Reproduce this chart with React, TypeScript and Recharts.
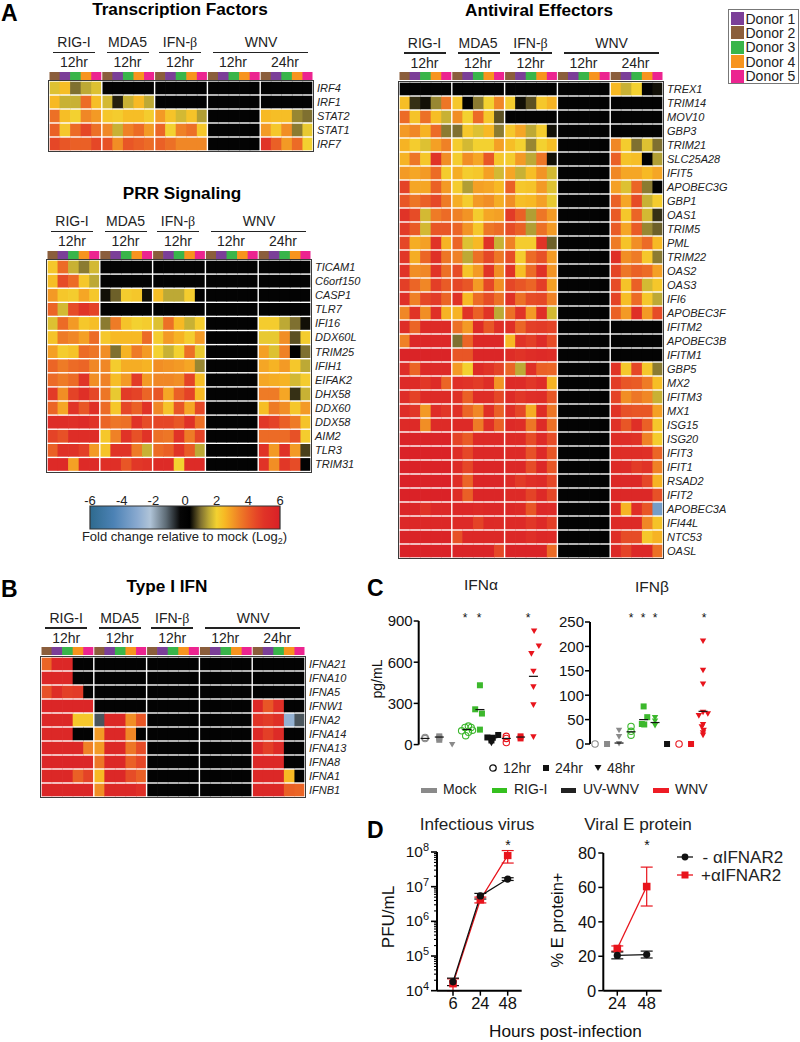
import React from "react";
import {
  BarChart, Bar, ScatterChart, Scatter, LineChart, Line, ErrorBar, XAxis, YAxis,
} from "recharts";

const FONT = '"Liberation Sans", Arial, sans-serif';
const INK = "#222";

const donors = ["Donor 1", "Donor 2", "Donor 3", "Donor 4", "Donor 5"];
const donorLegendColors = ["#7b3f98", "#8b5e3c", "#39b54a", "#f7941e", "#ec2490"];
const stripColors = ["#8b5e3c", "#7b3f98", "#39b54a", "#f7941e", "#ec2490"];

const fcStops = [-6, -4.5, -3, -2.2, -1.2, -0.3, 0.3, 1, 1.5, 2, 2.5, 3, 3.5, 4, 4.5, 5, 6];
const fcColors = ["#2e6a8e", "#4c82b5", "#8aaad0", "#b0c4d8", "#5d6b75", "#060606", "#000000", "#7f7030", "#bda935", "#f3d130", "#f7b924", "#f39a25", "#ee7b26", "#ea6026", "#e54727", "#e03327", "#d92027"];
const fcTicks = [-6, -4, -2, 0, 2, 4, 6];

const tfGenes = ["IRF4", "IRF1", "STAT2", "STAT1", "IRF7"];
const tfRows = [
  [1.8, 2.4, 1, 1.5, 1.8, 0, 0, 0, 0, 0, 0, 0, 0, 0, 0, 0, 0, 0, 0, 0, 0, 0, 0, 0, 0],
  [2.5, 1.6, 1.6, 3.8, 2.4, 1.7, 0.5, 1.6, 2.5, 1.5, 0, 0, 0, 0, 0, 0, 0, 0, 0, 0, 0, 0, 0, 0, 0],
  [3.7, 2.4, 2, 3.3, 3, 2.2, 2.1, 2.4, 2.4, 2.1, 3, 2.3, 1.7, 2.3, 1.4, 0, 0, 0, 0, 0, 2.5, 2.4, 2.4, 1.2, 1],
  [4, 2.2, 3.8, 4.5, 3.7, 3.3, 1.6, 3.4, 3.8, 3, 3.9, 2, 3.4, 3.7, 2.2, 0, 0, 0, 0, 0, 3, 2.2, 3.2, 1.1, 1.9],
  [4.5, 4.2, 4, 4, 4.5, 4.3, 3.2, 4.2, 4, 3.8, 4, 3.7, 3.3, 3.3, 3.3, 0, 0, 0, 0, 0, 5, 4, 3, 3.8, 2],
];

const prrGenes = ["TICAM1", "C6orf150", "CASP1", "TLR7", "IFI16", "DDX60L", "TRIM25", "IFIH1", "EIFAK2", "DHX58", "DDX60", "DDX58", "AIM2", "TLR3", "TRIM31"];
const prrRows = [
  [2.2, 3.8, 1.6, 1.1, 1.7, 0, 0, 0, 0, 0, 0, 0, 0, 0, 0, 0, 0, 0, 0, 0, 0, 0, 0, 0, 0],
  [2.4, 4.4, 3.8, 2.2, 1.5, 0, 0, 0, 0, 0, 0, 0, 0, 0, 0, 0, 0, 0, 0, 0, 0, 0, 0, 0, 0],
  [3, 2.2, 2.1, 2.8, 2.2, 0.4, 0.9, 2.1, 2.2, 0.4, 2.4, 1.5, 1.5, 2.1, 0.2, 0, 0, 0, 0, 0, 0, 0, 0, 0, 0],
  [3.9, 1.7, 4.4, 5, 4.6, 0, 0, 0, 0, 0, 0, 0, 0, 0, 0, 0, 0, 0, 0, 0, 0, 0, 0, 0, 0],
  [1.8, 3.8, 3, 2.2, 2.4, 1.1, 3.5, 2.3, 2, 2.1, 1.8, 3.7, 2.5, 1.6, 2.1, 0, 0, 0, 0, 0, 2.1, 2.1, 1.5, 1, 0.4],
  [2.3, 3.5, 3.3, 2.9, 3.8, 2.2, 2.5, 2.5, 2.5, 3.8, 2.1, 3, 2.6, 2.1, 3, 0, 0, 0, 0, 0, 1.9, 1.9, 3.2, 0.8, 2.1],
  [2.9, 2.1, 2.3, 3.8, 3.6, 3.2, 1, 2.6, 3.5, 3, 2, 1.6, 2, 3.7, 1.9, 0, 0, 0, 0, 0, 2.9, 1.8, 3.4, 0.3, 1],
  [3.9, 3.5, 3.8, 3.9, 3.3, 3.3, 2.1, 2.7, 2.7, 2.6, 3.2, 3.1, 3, 2.8, 1.2, 0, 0, 0, 0, 0, 2.8, 2.6, 3, 2.2, 1.5],
  [3.8, 3.5, 3.8, 5, 3.2, 3.4, 2.4, 3, 4.8, 3, 3.3, 3.3, 3.2, 4.6, 2.4, 0, 0, 0, 0, 0, 2.8, 2.7, 2.6, 1.7, 2.1],
  [4.8, 3.2, 4.6, 5.2, 4.5, 3.6, 1.9, 4.8, 4.6, 3.9, 4.2, 2.8, 4, 4.6, 2.5, 0, 0, 0, 0, 0, 3.5, 3.5, 2.8, 0.6, 1.6],
  [3.9, 2.8, 5, 4.2, 5.2, 3.8, 2.2, 4.5, 4, 5, 3.3, 2.3, 4.2, 2.8, 4.5, 0, 0, 0, 0, 0, 2.4, 3.5, 3.2, 2.2, 3],
  [5.3, 5.3, 5.2, 5.4, 5, 3.9, 3.6, 3.7, 5, 4.4, 4.5, 4.5, 4.2, 5.1, 3.7, 0, 0, 0, 0, 0, 4.9, 4.6, 4, 3.5, 2.3],
  [4.6, 4.3, 5.3, 5.3, 5.3, 2.2, 3.4, 5, 4.3, 5, 3.7, 3.6, 5, 3.5, 4.6, 0, 0, 0, 0, 0, 3.8, 3.8, 3.8, 4.3, 2.1],
  [4, 5.1, 5.1, 4.7, 3, 2.3, 5, 5, 3.5, 1.6, 3.8, 4, 5, 4.1, 1.5, 0, 0, 0, 0, 0, 5, 3, 5.1, 3, 0.7],
  [5.5, 5.5, 2.9, 5.5, 5.5, 5.2, 5.2, 4.2, 4.9, 5, 5.4, 5.4, 2, 5.4, 5.4, 0, 0, 0, 0, 0, 5, 3.2, 4.9, 4.4, 0],
];

const avGenes = ["TREX1", "TRIM14", "MOV10", "GBP3", "TRIM21", "SLC25A28", "IFIT5", "APOBEC3G", "GBP1", "OAS1", "TRIM5", "PML", "TRIM22", "OAS2", "OAS3", "IFI6", "APOBEC3F", "IFITM2", "APOBEC3B", "IFITM1", "GBP5", "MX2", "IFITM3", "MX1", "ISG15", "ISG20", "IFIT3", "IFIT1", "RSAD2", "IFIT2", "APOBEC3A", "IFI44L", "NTC53", "OASL"];
const avRows = [
  [0, 0, 0, 0, 0, 0, 0, 0, 0, 0, 0, 0, 0, 0, 0, 0, 0, 0, 0, 0, 2.5, 1.6, 2, 0.15, 0.4],
  [2.4, 0.6, 0.4, 1.2, 3.6, 2.2, 0.1, 1.1, 2, 3.3, 2.1, 0.4, 0.8, 2.2, 2.6, 0, 0, 0, 0, 0, 0, 0, 0, 0, 0],
  [3.8, 2.3, 3.7, 2.4, 1.6, 3.2, 2, 3.8, 2.2, 0.8, 0, 0, 0, 0, 0, 0, 0, 0, 0, 0, 0, 0, 0, 0, 0],
  [3, 3.3, 2.6, 3.8, 1.1, 1, 2.2, 1.8, 2.5, 1.1, 2.2, 2.8, 1.5, 2.1, 0.4, 0, 0, 0, 0, 0, 0, 0, 0, 0, 0],
  [2.6, 2.1, 1.8, 2.9, 3.4, 2.1, 1.7, 2, 2, 2.9, 2.4, 2, 1.2, 2, 2.4, 0, 0, 0, 0, 0, 3.3, 2.1, 1, 1.8, 1],
  [2.6, 3.6, 2.2, 5, 3.2, 2.1, 3.2, 2.8, 4.2, 2.2, 2.1, 3, 1.5, 3.6, 0.4, 0, 0, 0, 0, 0, 4, 2.3, 2.4, 0.1, 1.4],
  [3, 2.8, 3, 3.8, 2.1, 2.7, 2.1, 2.2, 2.9, 1.7, 2.8, 1.6, 2.4, 3.1, 1.7, 0, 0, 0, 0, 0, 3.3, 2.8, 2.8, 2.5, 2.8],
  [4.6, 2.8, 2.8, 4, 3, 2.1, 1.4, 2.9, 2.8, 2.5, 4, 2.2, 2.3, 3, 1.8, 0, 0, 0, 0, 0, 2.9, 1.8, 3.9, 1.1, 0.1],
  [4.2, 3.6, 4, 4.5, 3.5, 2.7, 2.1, 3, 3.2, 2.7, 3.2, 2.4, 2.5, 2.9, 1.9, 0, 0, 0, 0, 0, 4, 2.8, 4.4, 1.6, 2.1],
  [5, 4.4, 1.7, 3.5, 3.8, 3.4, 3.1, 2.1, 2.8, 2.9, 4.8, 4, 1.4, 3.6, 3, 0, 0, 0, 0, 0, 4.1, 2.2, 3.9, 1.7, 0.6],
  [4.8, 4.1, 1.7, 4.2, 4.2, 3.9, 3.1, 2.2, 3.6, 3.8, 4.4, 4, 1.4, 3.7, 3, 0, 0, 0, 0, 0, 4.1, 2.8, 4.1, 1.2, 0.9],
  [4.5, 2.7, 2.9, 5, 2.6, 3.9, 1.8, 2.5, 5, 1.6, 3.4, 2.1, 2.1, 5, 0.9, 0, 0, 0, 0, 0, 3.5, 2.3, 3.2, 3.8, 2.5],
  [4.9, 2.7, 3.9, 5.1, 3.6, 3.4, 1.5, 3.7, 4.5, 3.6, 4.4, 2.1, 3.8, 4.3, 3, 0, 0, 0, 0, 0, 5.2, 3.2, 3.5, 2.2, 1.1],
  [5, 3.2, 3.3, 5, 3.7, 4.4, 2.3, 3, 5, 3.2, 5, 2.4, 3.8, 5.1, 3.1, 0, 0, 0, 0, 0, 4.6, 3.6, 4, 3.8, 2.9],
  [4.7, 3.9, 3.3, 4.7, 4.1, 4.5, 4.2, 3, 4.5, 3.2, 4.5, 4.2, 3.9, 4.7, 2.9, 0, 0, 0, 0, 0, 4.4, 2.3, 4, 1.7, 2.2],
  [5.2, 3.4, 4.5, 4.8, 3.9, 5.1, 2.5, 3.8, 4.4, 3.7, 5.1, 3.7, 4.4, 4.5, 3.4, 0, 0, 0, 0, 0, 4.6, 2.4, 3.8, 2.2, 1.5],
  [3.3, 5, 3.2, 5.2, 2.6, 2.6, 5, 4, 5, 1.5, 3.7, 5, 3, 5.2, 1.7, 0, 0, 0, 0, 0, 4, 3, 5.2, 3, 4.4],
  [5.3, 3.9, 5.5, 5.5, 5.5, 3.7, 3, 5.4, 4.2, 5.2, 5.2, 3.9, 4.7, 4.8, 4.6, 0, 0, 0, 0, 0, 0, 0, 0, 0, 0],
  [3.4, 5.6, 5.6, 5.6, 5.6, 1, 3.9, 5.6, 5.6, 5.6, 2.5, 5, 4.7, 5.4, 4.4, 0, 0, 0, 0, 0, 0, 0, 0, 0, 0],
  [5.8, 5.8, 5.8, 5.8, 5.8, 4.2, 4.2, 5.7, 5.7, 5.7, 5.3, 5, 5.3, 5.5, 5.3, 0, 0, 0, 0, 0, 0, 0, 0, 0, 0],
  [5.3, 3.9, 5.5, 5.5, 5.5, 3, 2, 5.4, 5, 4.6, 3.9, 1.5, 5.2, 4, 3.9, 0, 0, 0, 0, 0, 5, 2.2, 4.5, 2.2, 1.1],
  [5.5, 5.4, 4.9, 5.4, 3.9, 5.2, 5, 4.8, 5.3, 3.1, 5.5, 5.4, 4.9, 5.3, 2.6, 0, 0, 0, 0, 0, 4.8, 4.2, 4.1, 3.5, 2.4],
  [5.3, 4.6, 5.4, 5.4, 5.4, 5.1, 4, 5.3, 5.3, 4.5, 5.4, 4.9, 5.2, 5.3, 4.2, 0, 0, 0, 0, 0, 4.6, 3.2, 3.6, 3.3, 1.6],
  [5.3, 4.9, 3, 5.3, 4.9, 5.2, 3.9, 3.3, 5.2, 4, 5.2, 4.5, 2.7, 5.3, 3.6, 0, 0, 0, 0, 0, 5, 4.3, 4.2, 4.2, 2.9],
  [5.5, 5.5, 3.2, 5.4, 5.4, 5.5, 5.5, 3.5, 5.2, 4, 5.5, 5.3, 3.6, 5.4, 3.7, 0, 0, 0, 0, 0, 5.1, 4.2, 5.2, 4, 2.2],
  [5.8, 5.8, 5.8, 5.8, 5.8, 4.6, 4.1, 5.5, 5.5, 5.5, 5.5, 5.5, 4.4, 5.5, 4.4, 0, 0, 0, 0, 0, 5.3, 5.3, 5.1, 3.4, 2.1],
  [5.9, 5.9, 5.9, 5.9, 5.9, 5.3, 4.5, 5.6, 5.6, 5.6, 5.5, 5.5, 4.3, 5.5, 4.2, 0, 0, 0, 0, 0, 5.3, 5.3, 5.3, 5.2, 3.9],
  [5.9, 5.9, 5.9, 5.9, 5.9, 5.4, 4.5, 5.7, 5.7, 5.7, 5.6, 5.6, 4.4, 5.6, 4.2, 0, 0, 0, 0, 0, 5.5, 5.5, 4.8, 5, 3.4],
  [5.9, 5.9, 5.9, 5.9, 5.9, 5.3, 3.9, 5.7, 5.7, 5.7, 5.4, 4.8, 5.2, 5.4, 4.5, 0, 0, 0, 0, 0, 5.6, 5.6, 5.6, 4.5, 2.6],
  [5.9, 5.9, 5.9, 5.9, 5.9, 5.3, 4, 5.7, 5.7, 5.7, 5.5, 5.5, 4.6, 5.5, 4.5, 0, 0, 0, 0, 0, 5.6, 5.6, 5.6, 5.6, 4.3],
  [5.7, 5.7, 5, 5.6, 5.6, 5.6, 5.6, 5.4, 5.6, 5.6, 5.6, 5.5, 4.2, 5.6, 5.4, 0, 0, 0, 0, 0, 5.4, 2.6, 5.2, 4.2, -3.5],
  [5.6, 5.6, 5.6, 5.6, 5.6, 5.5, 5.5, 4.6, 5.5, 5.4, 5.5, 5.5, 4.9, 5.5, 4.7, 0, 0, 0, 0, 0, 5.5, 5.5, 5.5, 3.3, 2.3],
  [5.8, 5.8, 5.8, 5.8, 5.8, 4.3, 5.6, 5.6, 5.6, 5.6, 5.6, 5.6, 5.2, 5.6, 5.5, 0, 0, 0, 0, 0, 5.3, 4.4, 4.4, 2.2, 2.6],
  [5.9, 5.9, 5.9, 5.9, 5.9, 5.8, 5.8, 5.8, 5.8, 4.5, 5.8, 5.8, 5.8, 5.8, 3.8, 0, 0, 0, 0, 0, 5.6, 4.6, 5.6, 5.6, 3.7],
];

const ifnGenes = ["IFNA21", "IFNA10", "IFNA5", "IFNW1", "IFNA2", "IFNA14", "IFNA13", "IFNA8", "IFNA1", "IFNB1"];
const ifnRows = [
  [3.9, 5.6, 5.6, 0, 0, 0, 0, 0, 0, 0, 0, 0, 0, 0, 0, 0, 0, 0, 0, 0, 0, 0, 0, 0, 0],
  [5.6, 5.6, 5.6, 0, 0, 0, 0, 0, 0, 0, 0, 0, 0, 0, 0, 0, 0, 0, 0, 0, 0, 0, 0, 0, 0],
  [4.3, 5.3, 4.7, 4.8, 0, 0, 0, 0, 0, 0, 0, 0, 0, 0, 0, 0, 0, 0, 0, 0, 0, 0, 0, 0, 0],
  [5.7, 5.7, 5.7, 5.7, 5.7, 0, 0, 0, 0, 0, 0, 0, 0, 0, 0, 0, 0, 0, 0, 0, 5.6, 4.2, 5.2, 0, 0],
  [5.6, 5.6, 5.6, 2.2, 2.2, -1, 5.6, 5.6, 3.2, 4.2, 0, 0, 0, 0, 0, 0, 0, 0, 0, 0, 5, 4.8, 5.2, -2.8, -1],
  [5.6, 5.6, 5.6, 0, 0, 3, 5.6, 5.6, 3.3, 0, 0, 0, 0, 0, 0, 0, 0, 0, 0, 0, 5.5, 4.7, 5.4, 0, 0],
  [5.6, 5.6, 5.6, 5.6, 3.4, 3, 5.6, 5.6, 3.6, 4.4, 0, 0, 0, 0, 0, 0, 0, 0, 0, 0, 5.5, 4.7, 5.4, 0, 0],
  [5.7, 5.7, 5.7, 5.7, 5.7, 3.6, 5.6, 5.6, 4, 4.5, 0, 0, 0, 0, 0, 0, 0, 0, 0, 0, 5.6, 5.6, 5.6, 0, 0],
  [5.6, 5.6, 5.6, 4, 4.6, 2.5, 5.6, 5.6, 4.4, 4, 0, 0, 0, 0, 0, 0, 0, 0, 0, 0, 5.6, 5.6, 5.6, 2.5, 0],
  [5.7, 5.7, 5.7, 5.7, 5.7, 3.2, 5.6, 5.6, 5.6, 5.2, 0, 0, 0, 0, 0, 0, 0, 0, 0, 0, 5.6, 5.6, 5.6, 4, 3.9],
];

// dot plots: [position along the x axis, pg/mL]
const alphaTicks = [0, 300, 600, 900];
const alphaMock12 = [[0, 44], [0, 52]];
const alphaMock24 = [[1.05, 60], [1.05, 35], [1.05, 50]];
const alphaMock48 = [[2, 0]];
const alphaRig12 = [[2.7, 100], [2.95, 125], [3.2, 135], [3.4, 125], [3.5, 105], [3, 65], [3.2, 90]];
const alphaRig24 = [[3.7, 257], [4.05, 432], [4.2, 226], [4.05, 109]];
const alphaUv24 = [[4.6, 52], [5, 50], [5.4, 70], [4.9, 30]];
const alphaUv48 = [[4.9, 10]];
const alphaWnv12 = [[6, 60], [6, 45], [6, 15]];
const alphaWnv24 = [[7.05, 60], [7.05, 45]];
const alphaWnv48 = [[8.05, 827], [8.4, 718], [7.85, 662], [8, 534], [8, 420], [8, 289], [8, 56]];
const alphaMedians = [[0, 45], [1.05, 55], [3.1, 110], [4.05, 255], [5, 50], [6, 45], [7.05, 55], [8, 497]];

const betaTicks = [0, 50, 100, 150, 200, 250];
const betaMock12 = [[0, 0]];
const betaMock24 = [[1, 0]];
const betaMock48 = [[2, 28], [2, 15], [2, 1]];
const betaRig12 = [[3, 36], [3, 26], [3, 18]];
const betaRig24 = [[3.9, 41], [4.05, 77], [4.35, 55], [4.1, 40]];
const betaRig48 = [[5, 54], [5, 47], [5, 38]];
const betaUv24 = [[6, 0]];
const betaWnv12 = [[7, 0]];
const betaWnv24 = [[8, 0]];
const betaWnv48 = [[9, 211], [9, 151], [9, 123], [8.65, 58], [9.4, 62], [9, 65], [9, 40], [8.9, 35], [9.05, 28], [9, 23], [9, 18]];
const betaMedians = [[2, 2], [3, 25], [4.05, 50], [5, 44], [9, 67]];

const hoursPfu = ["6", "24", "48"];
const pfuMinus = [1.8e4, 5.4e6, 1.66e7];
const pfuPlus = [1.6e4, 4.2e6, 8e7];
const pfuMinusErr = [[4e3, 5e3], [1e6, 1e6], [1.5e6, 1.5e6]];
const pfuPlusErr = [[6e3, 6e3], [8e5, 8e5], [3.2e7, 3e7]];
const pfuTicks = [1e4, 2e4, 3e4, 4e4, 5e4, 6e4, 7e4, 8e4, 9e4, 1e5, 2e5, 3e5, 4e5, 5e5, 6e5, 7e5, 8e5, 9e5, 1e6, 2e6, 3e6, 4e6, 5e6, 6e6, 7e6, 8e6, 9e6, 1e7, 2e7, 3e7, 4e7, 5e7, 6e7, 7e7, 8e7, 9e7, 1e8];

const hoursE = ["24", "48"];
const eMinus = [20.5, 21];
const ePlus = [24.5, 60.5];
const eMinusErr = [2, 2];
const ePlusErr = [1.5, 11.3];
const eTicks = [0, 20, 40, 60, 80];

const RED = "#e8141c";
const GREEN = "#3cb82c";
const GREY = "#8a8a8a";

function fcColor(v: number) {
  let i = 0;
  while (i < fcStops.length - 2 && v > fcStops[i + 1]) i++;
  const t = Math.max(0, Math.min(1, (v - fcStops[i]) / (fcStops[i + 1] - fcStops[i])));
  const a = fcColors[i], b = fcColors[i + 1];
  const ch = (s: string, k: number) => parseInt(s.slice(1 + k * 2, 3 + k * 2), 16);
  const mix = [0, 1, 2].map((k) => Math.round(ch(a, k) + (ch(b, k) - ch(a, k)) * t));
  return `rgb(${mix.join(",")})`;
}

function Txt({ x, y, size = 14, bold, italic, anchor = "center", rotate, color = INK, children }: any) {
  const tx = anchor === "center" ? "-50%" : "0";
  return (
    <div
      style={{
        position: "absolute", left: x, top: y, fontFamily: FONT, fontSize: size, color,
        fontWeight: bold ? 700 : 400, fontStyle: italic ? "italic" : "normal", whiteSpace: "nowrap",
        lineHeight: 1, transform: `translate(${tx},-50%)${rotate ? ` rotate(${rotate}deg)` : ""}`,
      }}
    >
      {children}
    </div>
  );
}

function Rule({ x1, x2, y }: any) {
  return <div style={{ position: "absolute", left: x1, top: y - 0.75, width: x2 - x1, height: 1.5, background: "#222" }} />;
}

const beta = <span style={{ fontFamily: '"Liberation Serif", serif' }}>β</span>;

const CELL_W = 264 / 25;
const GAP = 0.7;

function HeatPanel({ left, top, rowH, genes, rows, labelTop = -39 }: any) {
  const n = rows.length;
  const cells = rows.flatMap((vals: number[], r: number) =>
    vals.map((v, c) => ({ col: c + 0.5, row: r + 0.5, value: v }))
  );
  const strip = Array.from({ length: 25 }, (_, c) => ({ col: c + 0.5, row: 0.5, donor: c % 5 }));
  // white separators are the gaps left between rows and between the five groups
  const cellShape = ({ cx, cy, payload }: any) => {
    const c = Math.floor(payload.col);
    const l = c % 5 === 0 ? GAP : 0;
    const r = c % 5 === 4 ? GAP : 0;
    return (
      <rect
        x={cx - CELL_W / 2 + l} y={cy - rowH / 2 + GAP}
        width={CELL_W - l - r + (r ? 0 : 0.7)} height={rowH - 2 * GAP}
        fill={fcColor(payload.value)}
      />
    );
  };
  const stripShape = ({ cx, cy, payload }: any) => {
    const c = Math.floor(payload.col);
    const l = c % 5 === 0 ? 0.5 : 0;
    const r = c % 5 === 4 ? 0.5 : 0;
    return <rect x={cx - CELL_W / 2 + l} y={cy - 4} width={CELL_W - l - r + (r ? 0 : 0.7)} height={8} fill={stripColors[payload.donor]} />;
  };
  return (
    <>
      <Txt x={left + 25.5} y={top + labelTop}>RIG-I</Txt>
      <Txt x={left + 79} y={top + labelTop}>MDA5</Txt>
      <Txt x={left + 131.5} y={top + labelTop}>IFN-{beta}</Txt>
      <Txt x={left + 212.5} y={top + labelTop}>WNV</Txt>
      <Rule x1={left + 4.5} x2={left + 46.5} y={top + labelTop + 10.5} />
      <Rule x1={left + 58.5} x2={left + 100.5} y={top + labelTop + 10.5} />
      <Rule x1={left + 110.5} x2={left + 152.5} y={top + labelTop + 10.5} />
      <Rule x1={left + 164.5} x2={left + 259.5} y={top + labelTop + 10.5} />
      <Txt x={left + 25.5} y={top - 19}>12hr</Txt>
      <Txt x={left + 79} y={top - 19}>12hr</Txt>
      <Txt x={left + 131.5} y={top - 19}>12hr</Txt>
      <Txt x={left + 184.5} y={top - 19}>12hr</Txt>
      <Txt x={left + 236.5} y={top - 19}>24hr</Txt>

      <div style={{ position: "absolute", left, top: top - 9.5 }}>
        <ScatterChart width={264} height={8} margin={{ top: 0, right: 0, bottom: 0, left: 0 }}>
          <XAxis type="number" dataKey="col" domain={[0, 25]} hide />
          <YAxis type="number" dataKey="row" domain={[0, 1]} hide />
          <Scatter data={strip} shape={stripShape} isAnimationActive={false} />
        </ScatterChart>
      </div>

      <div style={{ position: "absolute", left: left - 2, top: top - 2 }}>
        <ScatterChart width={266 + 84} height={n * rowH + 4} margin={{ top: 2, right: 0, bottom: 2, left: 2 }}>
          <XAxis type="number" dataKey="col" domain={[0, 25]} hide />
          <YAxis
            type="number" dataKey="row" domain={[0, n]} reversed orientation="right" width={84}
            ticks={genes.map((_: string, i: number) => i + 0.5)} interval={0}
            tickFormatter={(v: number) => genes[Math.floor(v)]}
            axisLine={false} tickLine={false} tickSize={0} tickMargin={4}
            tick={{ fontSize: 11, fontStyle: "italic", fill: INK, fontFamily: FONT }}
          />
          <Scatter data={cells} shape={cellShape} isAnimationActive={false} />
        </ScatterChart>
      </div>
      <div style={{ position: "absolute", left: left - 0.75, top: top - 0.75, width: 264, height: n * rowH, border: "1.5px solid #3a3a3a", boxSizing: "content-box", pointerEvents: "none" }} />
    </>
  );
}

function ColorBar() {
  const data = [{ name: "fold", range: [-6, 6] }];
  return (
    <div style={{ position: "absolute", left: 79.5, top: 490 }}>
      <BarChart layout="vertical" width={210} height={40} data={data} barCategoryGap={0} margin={{ top: 0, right: 10, bottom: 1, left: 10 }}>
        <defs>
          <linearGradient id="fcGrad" x1="0" y1="0" x2="1" y2="0">
            {fcStops.map((s, i) => (
              <stop key={s} offset={(s + 6) / 12} stopColor={fcColors[i]} />
            ))}
          </linearGradient>
        </defs>
        <XAxis
          type="number" orientation="top" height={16} domain={[-6, 6]} ticks={fcTicks} interval={0}
          axisLine={false} tickLine={false} tickSize={0} tickMargin={1}
          tick={{ fontSize: 13, fill: INK, fontFamily: FONT }}
        />
        <YAxis type="category" dataKey="name" hide />
        <Bar dataKey="range" fill="url(#fcGrad)" stroke="#333" strokeWidth={1.2} isAnimationActive={false} />
      </BarChart>
    </div>
  );
}

const openCircle = (color: string) => ({ cx, cy }: any) => (
  <circle cx={cx} cy={cy} r={3.2} fill="none" stroke={color} strokeWidth={1.1} />
);
const square = (color: string) => ({ cx, cy }: any) => (
  <rect x={cx - 3} y={cy - 3} width={6} height={6} fill={color} />
);
const triangle = (color: string) => ({ cx, cy }: any) => (
  <path d={`M${cx - 3.2} ${cy - 2.6}L${cx + 3.2} ${cy - 2.6}L${cx} ${cy + 3}Z`} fill={color} />
);
const dash = ({ cx, cy }: any) => <rect x={cx - 4.5} y={cy - 0.6} width={9} height={1.2} fill="#111" />;

const toPts = (pairs: number[][]) => pairs.map(([pos, value]) => ({ pos, value }));

function DotPlot({ left, top, yWidth, plotW, plotH, domainX, domainY, ticks, series, medians }: any) {
  return (
    <div style={{ position: "absolute", left, top }}>
      <ScatterChart width={yWidth + plotW + 4} height={plotH + 16} margin={{ top: 8, right: 4, bottom: 8, left: 0 }}>
        <XAxis type="number" dataKey="pos" domain={domainX} height={0} tick={false} tickLine={false} axisLine={{ stroke: "#000", strokeWidth: 2 }} />
        <YAxis
          type="number" dataKey="value" domain={domainY} ticks={ticks} interval={0} width={yWidth}
          axisLine={{ stroke: "#000", strokeWidth: 2 }} tickLine={{ stroke: "#000", strokeWidth: 1.5 }} tickSize={5} tickMargin={1}
          tick={{ fontSize: 15, fill: "#111", fontFamily: FONT }}
        />
        {series.map((s: any, i: number) => (
          <Scatter key={i} data={toPts(s.pts)} shape={s.shape} isAnimationActive={false} />
        ))}
        <Scatter data={toPts(medians)} shape={dash} isAnimationActive={false} />
      </ScatterChart>
    </div>
  );
}

function PfuTick({ x, y, payload }: any) {
  const exp = Math.log10(payload.value);
  const major = Math.abs(exp - Math.round(exp)) < 1e-6;
  return (
    <g>
      <line x1={x} x2={x - (major ? 6 : 3)} y1={y} y2={y} stroke="#000" strokeWidth={major ? 1.6 : 1.1} />
      {major && (
        <text x={x - 8} y={y + 5} textAnchor="end" fontFamily={FONT} fontSize={15.5} fill="#111">
          10<tspan dy={-6} fontSize={11}>{Math.round(exp)}</tspan>
        </text>
      )}
    </g>
  );
}

const dotBlack = ({ cx, cy }: any) => <circle key={cx} cx={cx} cy={cy} r={3.6} fill="#111" />;
const boxRed = ({ cx, cy }: any) => <rect key={cx} x={cx - 3.8} y={cy - 3.8} width={7.6} height={7.6} fill={RED} />;

function LinePanel({ left, top, yWidth, plotW, plotH, data, padding, children }: any) {
  return (
    <div style={{ position: "absolute", left, top }}>
      <LineChart width={yWidth + plotW + 2} height={plotH + 12 + 28} data={data} margin={{ top: 10, right: 2, bottom: 2, left: 0 }}>
        <XAxis
          dataKey="hour" height={26} padding={padding} interval={0}
          axisLine={{ stroke: "#000", strokeWidth: 2 }} tickLine={{ stroke: "#000", strokeWidth: 1.5 }} tickSize={5} tickMargin={2}
          tick={{ fontSize: 16.5, fill: "#111", fontFamily: FONT }}
        />
        {children}
        <Line dataKey="plus" stroke={RED} strokeWidth={1.3} dot={boxRed} isAnimationActive={false}>
          <ErrorBar dataKey="plusErr" stroke={RED} width={6} strokeWidth={1.2} />
        </Line>
        <Line dataKey="minus" stroke="#111" strokeWidth={1.3} dot={dotBlack} isAnimationActive={false}>
          <ErrorBar dataKey="minusErr" stroke="#111" width={6} strokeWidth={1.2} />
        </Line>
      </LineChart>
    </div>
  );
}

export default function App() {
  const pfuData = hoursPfu.map((hour, i) => ({ hour, minus: pfuMinus[i], plus: pfuPlus[i], minusErr: pfuMinusErr[i], plusErr: pfuPlusErr[i] }));
  const eData = hoursE.map((hour, i) => ({ hour, minus: eMinus[i], plus: ePlus[i], minusErr: eMinusErr[i], plusErr: ePlusErr[i] }));

  const alphaSeries = [
    { pts: alphaMock12, shape: openCircle(GREY) },
    { pts: alphaMock24, shape: square(GREY) },
    { pts: alphaMock48, shape: triangle(GREY) },
    { pts: alphaRig12, shape: openCircle(GREEN) },
    { pts: alphaRig24, shape: square(GREEN) },
    { pts: alphaUv24, shape: square("#111") },
    { pts: alphaUv48, shape: triangle("#111") },
    { pts: alphaWnv12, shape: openCircle(RED) },
    { pts: alphaWnv24, shape: square(RED) },
    { pts: alphaWnv48, shape: triangle(RED) },
  ];
  const betaSeries = [
    { pts: betaMock12, shape: openCircle(GREY) },
    { pts: betaMock24, shape: square(GREY) },
    { pts: betaMock48, shape: triangle(GREY) },
    { pts: betaRig12, shape: openCircle(GREEN) },
    { pts: betaRig24, shape: square(GREEN) },
    { pts: betaRig48, shape: triangle(GREEN) },
    { pts: betaUv24, shape: square("#111") },
    { pts: betaWnv12, shape: openCircle(RED) },
    { pts: betaWnv24, shape: square(RED) },
    { pts: betaWnv48, shape: triangle(RED) },
  ];

  const swatches = [
    { x: 421, w: 16, c: GREY, label: "Mock", lx: 443 },
    { x: 492, w: 15, c: "#35c01f", label: "RIG-I", lx: 514 },
    { x: 561, w: 15, c: "#222", label: "UV-WNV", lx: 583 },
    { x: 653, w: 16, c: "#ee1c25", label: "WNV", lx: 675 },
  ];

  return (
    <div style={{ position: "absolute", left: 0, top: 0, width: 800, height: 1042, background: "#fff", overflow: "hidden" }}>
      <Txt x={1} y={13} size={23} bold anchor="start" color="#000">A</Txt>
      <Txt x={1} y={589} size={23} bold anchor="start" color="#000">B</Txt>
      <Txt x={367} y={588} size={23} bold anchor="start" color="#000">C</Txt>
      <Txt x={367} y={830} size={23} bold anchor="start" color="#000">D</Txt>

      <Txt x={180} y={9.5} size={17.2} bold color="#000">Transcription Factors</Txt>
      <Txt x={182} y={194} size={17.2} bold color="#000">PRR Signaling</Txt>
      <Txt x={539} y={11} size={17.2} bold color="#000">Antiviral Effectors</Txt>
      <Txt x={167} y={587} size={17.2} bold color="#000">Type I IFN</Txt>

      <HeatPanel left={48.5} top={81} rowH={14} genes={tfGenes} rows={tfRows} />
      <HeatPanel left={46.5} top={260} rowH={14.1} genes={prrGenes} rows={prrRows} />
      <HeatPanel left={399} top={81.7} rowH={14} genes={avGenes} rows={avRows} />
      <HeatPanel left={40.7} top={656.7} rowH={14} genes={ifnGenes} rows={ifnRows} />

      <div style={{ position: "absolute", left: 728, top: 9, width: 69, height: 73, border: "1.5px solid #777", boxSizing: "content-box", background: "#fff" }}>
        {donors.map((d, i) => (
          <div key={d} style={{ position: "absolute", left: 1.5, top: 1.5 + i * 14.4, display: "flex", alignItems: "center", height: 14, fontFamily: FONT, fontSize: 14, color: INK, whiteSpace: "nowrap" }}>
            <span style={{ width: 13, height: 13, background: donorLegendColors[i], marginRight: 2 }} />
            {d}
          </div>
        ))}
      </div>

      <ColorBar />
      <Txt x={184.5} y={538} size={13}>
        Fold change relative to mock (Log<span style={{ fontSize: 9, verticalAlign: -3 }}>2</span>)
      </Txt>

      <Txt x={481} y={585} size={15.5}>IFNα</Txt>
      <Txt x={652} y={587} size={15.5}>IFNβ</Txt>
      <Txt x={377} y={679} size={14} rotate={-90} color="#111">pg/mL</Txt>
      {[465, 479, 528].map((x) => <Txt key={x} x={x} y={618} size={12} color="#111">*</Txt>)}
      {[631, 643, 655, 704].map((x) => <Txt key={x} x={x} y={618} size={12} color="#111">*</Txt>)}
      <DotPlot left={380} top={612.7} yWidth={38.7} plotW={123} plotH={123.6} domainX={[-0.47, 8.61]} domainY={[0, 900]} ticks={alphaTicks} series={alphaSeries} medians={alphaMedians} />
      <DotPlot left={550} top={613.7} yWidth={40} plotW={120} plotH={122} domainX={[-0.42, 9.58]} domainY={[0, 250]} ticks={betaTicks} series={betaSeries} medians={betaMedians} />

      <svg width={10} height={10} style={{ position: "absolute", left: 488, top: 763 }}><circle cx={5} cy={5} r={3.2} fill="none" stroke="#111" strokeWidth={1.3} /></svg>
      <Txt x={503} y={768} anchor="start" size={14}>12hr</Txt>
      <svg width={10} height={10} style={{ position: "absolute", left: 541, top: 763 }}><rect x={2} y={2} width={6} height={6} fill="#111" /></svg>
      <Txt x={555} y={768} anchor="start" size={14}>24hr</Txt>
      <svg width={10} height={10} style={{ position: "absolute", left: 593, top: 763 }}><path d="M1.5 2L8.5 2L5 8Z" fill="#111" /></svg>
      <Txt x={607} y={768} anchor="start" size={14}>48hr</Txt>

      {swatches.map((s) => (
        <React.Fragment key={s.label}>
          <div style={{ position: "absolute", left: s.x, top: 787.5, width: s.w, height: 5, background: s.c }} />
          <Txt x={s.lx} y={789} anchor="start" size={14}>{s.label}</Txt>
        </React.Fragment>
      ))}

      <Txt x={477} y={825} size={17.2}>Infectious virus</Txt>
      <Txt x={638} y={825} size={17.2}>Viral E protein</Txt>
      <Txt x={508} y={845} size={14} color="#111">*</Txt>
      <Txt x={647} y={845} size={14} color="#111">*</Txt>
      <Txt x={388} y={917} size={17} rotate={-90} color="#111">PFU/mL</Txt>
      <Txt x={556.5} y={920} size={16.5} rotate={-90} color="#111">% E protein+</Txt>
      <Txt x={565.5} y={1032} size={17.2} color="#111">Hours post-infection</Txt>

      <LinePanel left={390} top={842.3} yWidth={47} plotW={84.7} plotH={136.7} data={pfuData} padding={{ left: 16, right: 14 }}>
        <YAxis
          scale="log" domain={[1e4, 1e8]} ticks={pfuTicks} interval={0} width={47} allowDataOverflow
          axisLine={{ stroke: "#000", strokeWidth: 2 }} tickLine={false} tickSize={0} tickMargin={0} tick={<PfuTick />}
        />
      </LinePanel>
      <LinePanel left={556} top={843.3} yWidth={47.3} plotW={58.4} plotH={135.7} data={eData} padding={{ left: 14, right: 15 }}>
        <YAxis
          domain={[0, 80]} ticks={eTicks} interval={0} width={47.3}
          axisLine={{ stroke: "#000", strokeWidth: 2 }} tickLine={{ stroke: "#000", strokeWidth: 1.5 }} tickSize={5} tickMargin={2}
          tick={{ fontSize: 16.5, fill: "#111", fontFamily: FONT }}
        />
      </LinePanel>

      <svg width={16} height={10} style={{ position: "absolute", left: 677, top: 852 }}>
        <line x1={0} x2={16} y1={5} y2={5} stroke="#111" strokeWidth={1.3} /><circle cx={8} cy={5} r={3.4} fill="#111" />
      </svg>
      <Txt x={702.5} y={857} anchor="start" size={17}>- αIFNAR2</Txt>
      <svg width={16} height={10} style={{ position: "absolute", left: 677, top: 870 }}>
        <line x1={0} x2={16} y1={5} y2={5} stroke={RED} strokeWidth={1.3} /><rect x={4.5} y={1.5} width={7} height={7} fill={RED} />
      </svg>
      <Txt x={701} y={875} anchor="start" size={17}>+αIFNAR2</Txt>
    </div>
  );
}
